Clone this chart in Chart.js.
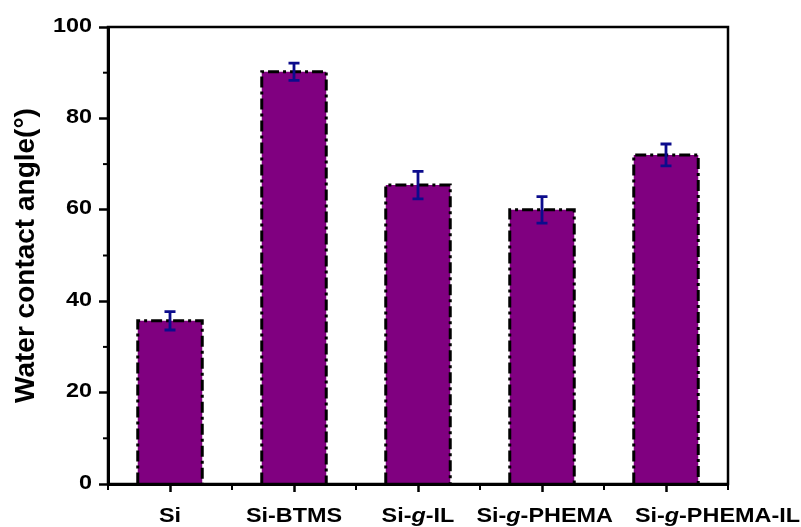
<!DOCTYPE html>
<html>
<head>
<meta charset="utf-8">
<script src="https://cdn.jsdelivr.net/npm/chart.js@4"></script>
<style>
html,body{margin:0;padding:0;background:#fff;}
canvas{display:block;}
</style>
</head>
<body>
<canvas id="c" width="801" height="527"></canvas>
<script>
// ---- data ----
const categories = ["Si", "Si-BTMS", "Si-g-IL", "Si-g-PHEMA", "Si-g-PHEMA-IL"];
const contactAngle = [35.7, 90.2, 65.4, 60.0, 72.0];
const contactAngleErr = [2.0, 1.9, 3.0, 2.9, 2.4];
const yTicks = [0, 20, 40, 60, 80, 100];
const yMinorTicks = [10, 30, 50, 70, 90];

const FONT = "'Liberation Sans', Arial, sans-serif";
const STRETCH = 1.17;

const frameAndDecor = {
  id: 'frameAndDecor',
  afterDatasetsDraw(chart) {
    const ctx = chart.ctx;
    const meta = chart.getDatasetMeta(0);
    const ys = chart.scales.y;
    // dash-dot bar outlines
    ctx.save();
    ctx.strokeStyle = '#000';
    ctx.lineWidth = 3;
    ctx.setLineDash([11, 4, 3, 4]);
    meta.data.forEach(bar => {
      const l = bar.x - bar.width / 2, r = bar.x + bar.width / 2;
      ctx.beginPath();
      ctx.moveTo(l, bar.base);
      ctx.lineTo(l, bar.y);
      ctx.lineTo(r, bar.y);
      ctx.lineTo(r, bar.base);
      ctx.stroke();
    });
    ctx.restore();
    // error bars
    ctx.save();
    ctx.strokeStyle = '#0c0c8c';
    ctx.lineWidth = 2.8;
    meta.data.forEach((bar, i) => {
      const v = contactAngle[i], e = contactAngleErr[i];
      const yt = ys.getPixelForValue(v + e), yb = ys.getPixelForValue(v - e);
      ctx.beginPath();
      ctx.moveTo(bar.x, yt); ctx.lineTo(bar.x, yb);
      ctx.moveTo(bar.x - 5.5, yt); ctx.lineTo(bar.x + 5.5, yt);
      ctx.moveTo(bar.x - 5.5, yb); ctx.lineTo(bar.x + 5.5, yb);
      ctx.stroke();
    });
    ctx.restore();
  },
  afterDraw(chart) {
    const ctx = chart.ctx;
    const a = chart.chartArea;
    const xs = chart.scales.x, ys = chart.scales.y;
    ctx.save();
    ctx.strokeStyle = '#000';
    ctx.lineWidth = 2.5;
    ctx.strokeRect(a.left, a.top, a.right - a.left, a.bottom - a.top);
    // minor y ticks
    ctx.lineWidth = 2;
    yMinorTicks.forEach(v => {
      const y = ys.getPixelForValue(v);
      ctx.beginPath(); ctx.moveTo(a.left - 5, y); ctx.lineTo(a.left, y); ctx.stroke();
    });
    // minor x ticks (category boundaries)
    for (let i = 0; i <= categories.length; i++) {
      const x = a.left + (a.right - a.left) * i / categories.length;
      ctx.beginPath(); ctx.moveTo(x, a.bottom); ctx.lineTo(x, a.bottom + 6); ctx.stroke();
    }
    ctx.fillStyle = '#000';
    // y tick labels (slightly wide bold type)
    ctx.font = 'bold 20px ' + FONT;
    ctx.textAlign = 'right';
    ctx.textBaseline = 'middle';
    yTicks.forEach(v => {
      const y = ys.getPixelForValue(v);
      ctx.save();
      ctx.translate(a.left - 16, y - 1);
      ctx.scale(STRETCH, 1);
      ctx.fillText(String(v), 0, 0);
      ctx.restore();
    });
    // x labels with italic "g"
    ctx.textBaseline = 'alphabetic';
    ctx.textAlign = 'left';
    let prevEnd = -Infinity;
    categories.forEach((lab, i) => {
      const x = xs.getPixelForValue(i);
      const parts = lab.split(/(?<=-)(g)(?=-)/);
      const fonts = parts.map(p => (p === 'g' ? 'italic bold 20px ' : 'bold 20px ') + FONT);
      let w = 0;
      parts.forEach((p, k) => { ctx.font = fonts[k]; w += ctx.measureText(p).width * STRETCH; });
      let cx = Math.max(x - w / 2, prevEnd + 22);
      prevEnd = cx + w;
      parts.forEach((p, k) => {
        ctx.font = fonts[k];
        ctx.save();
        ctx.translate(cx, 522);
        ctx.scale(STRETCH, 1);
        ctx.fillText(p, 0, 0);
        ctx.restore();
        cx += ctx.measureText(p).width * STRETCH;
      });
    });
    ctx.restore();
  }
};

new Chart(document.getElementById('c'), {
  type: 'bar',
  data: {
    labels: categories,
    datasets: [{
      data: contactAngle,
      backgroundColor: '#800080',
      borderWidth: 0,
      barPercentage: 0.52,
      categoryPercentage: 1.0
    }]
  },
  options: {
    responsive: false,
    animation: false,
    devicePixelRatio: 1,
    layout: { padding: { left: 0, right: 73, top: 27, bottom: 0 } },
    plugins: { legend: { display: false }, tooltip: { enabled: false } },
    scales: {
      x: {
        offset: true,
        grid: { display: true, offset: false, drawOnChartArea: false, tickLength: 8, tickWidth: 2.5, tickColor: '#000' },
        border: { display: true, color: '#000', width: 3 },
        ticks: { display: false },
        afterFit(s) { s.height = 43; }
      },
      y: {
        min: 0, max: 100,
        afterBuildTicks(s) { s.ticks = yTicks.map(v => ({ value: v })); },
        grid: { display: true, drawOnChartArea: false, tickLength: 9, tickWidth: 2.5, tickColor: '#000' },
        border: { display: true, color: '#000', width: 3 },
        ticks: { display: false },
        title: { display: true, text: 'Water contact angle(°)', color: '#000', padding: { top: 9, bottom: 0 }, font: { family: FONT, size: 28, weight: 'bold' } },
        afterFit(s) { s.width = 108; }
      }
    }
  },
  plugins: [frameAndDecor]
});
</script>
</body>
</html>
